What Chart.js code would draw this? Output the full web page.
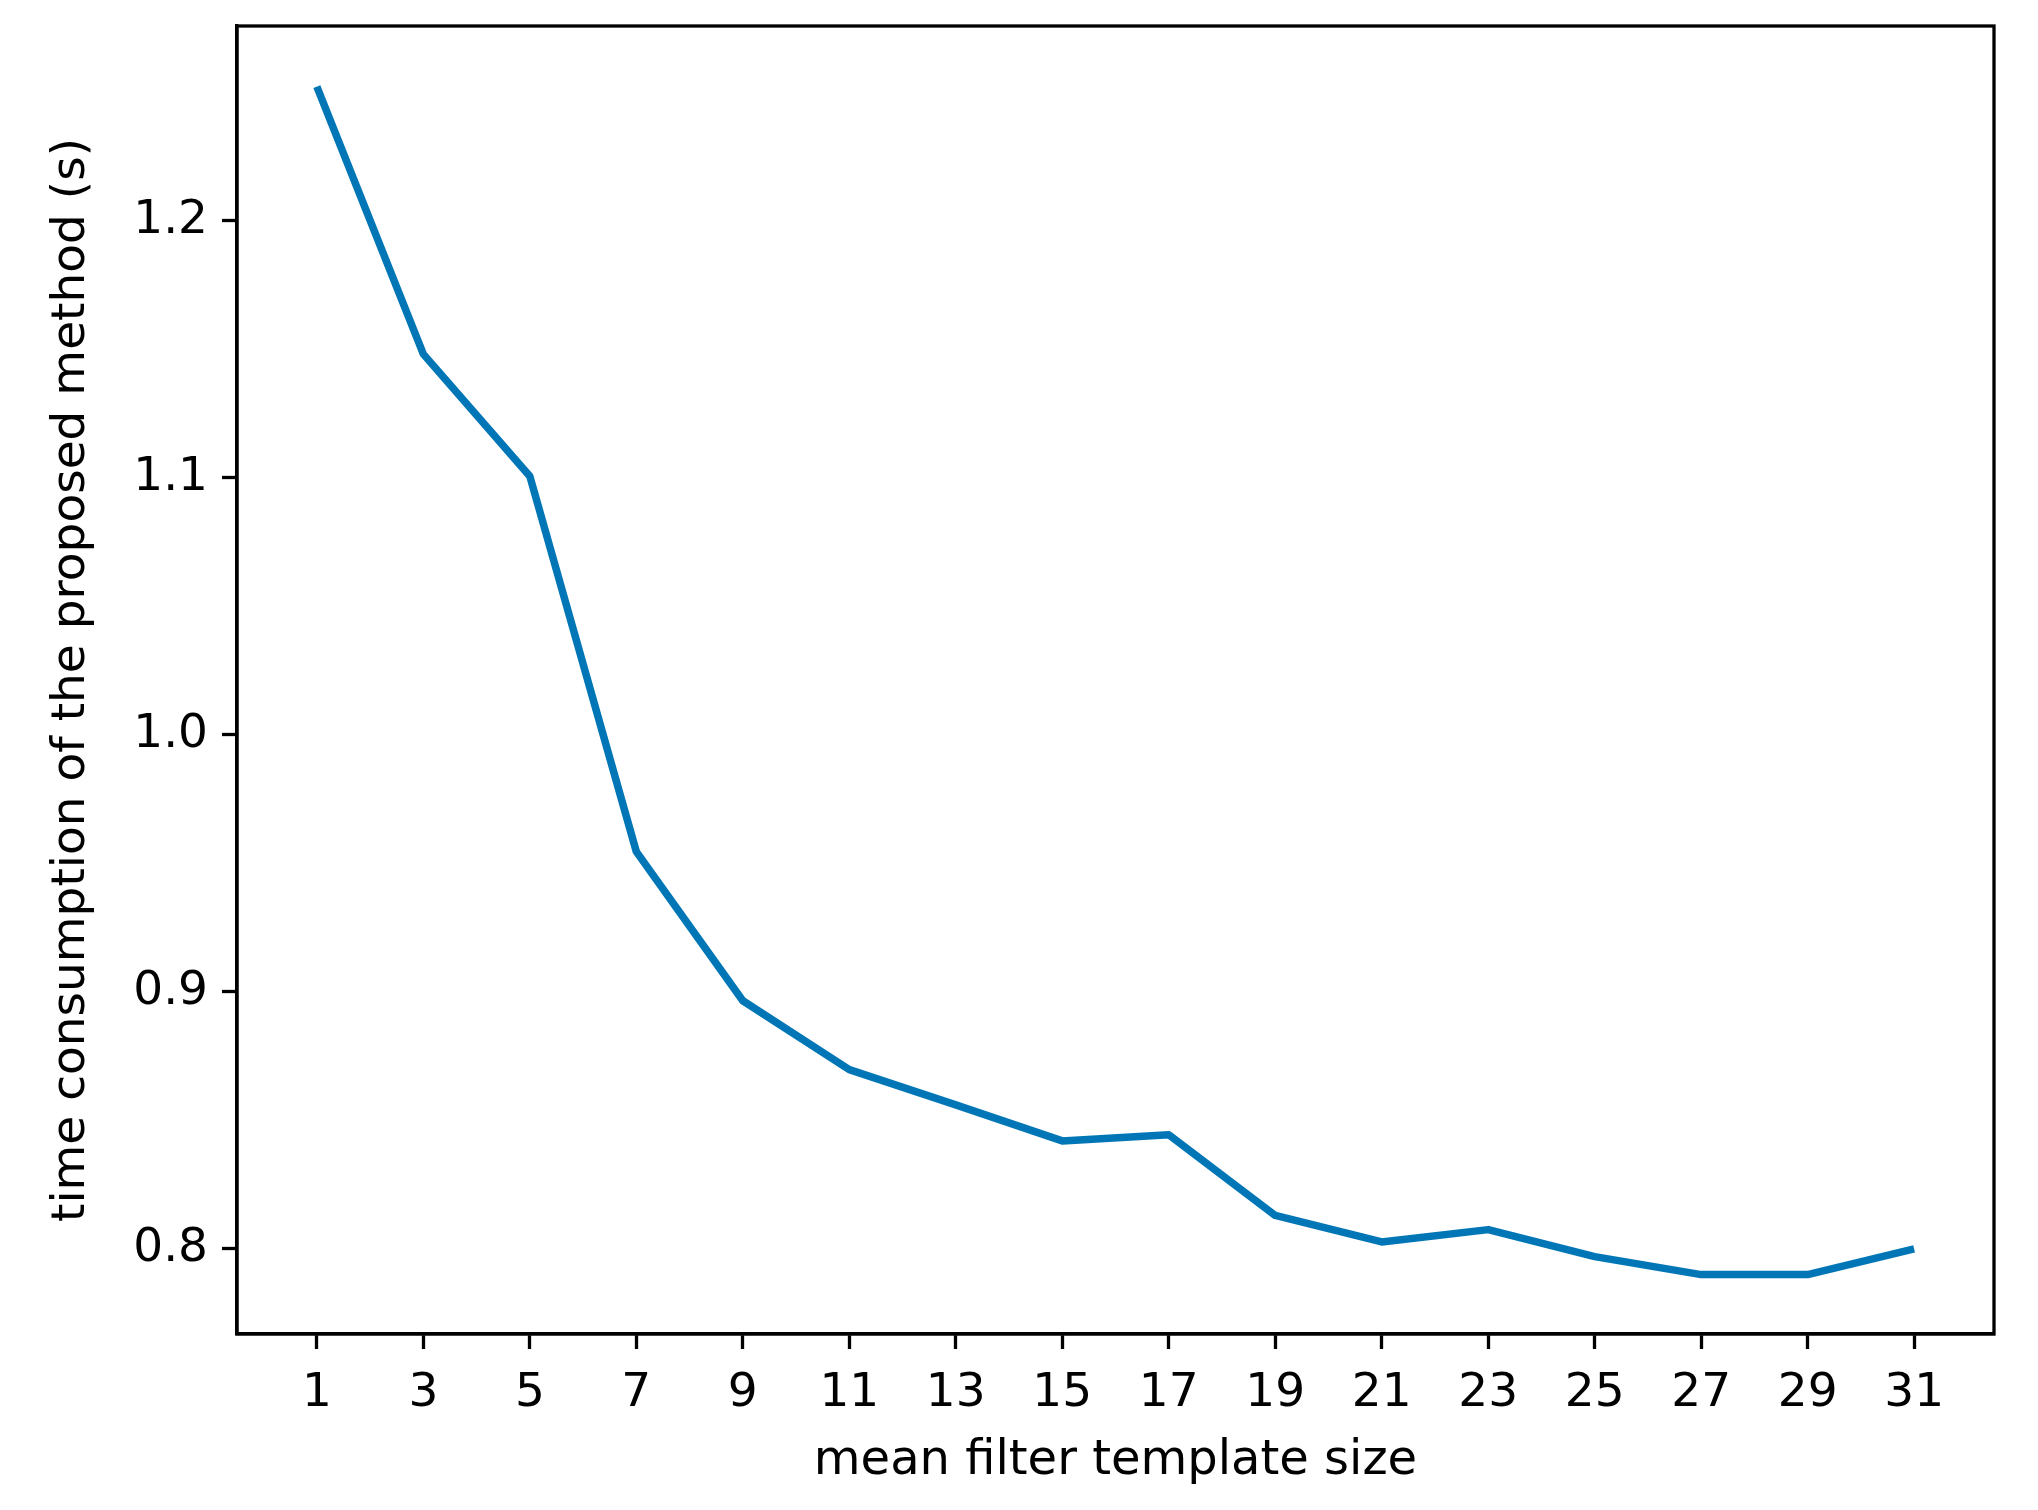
<!DOCTYPE html>
<html>
<head>
<meta charset="utf-8">
<script src="https://cdn.jsdelivr.net/npm/chart.js@4"></script>
<style>
  html, body { margin: 0; padding: 0; background: #fff; }
  #wrap { width: 2038px; height: 1510px; }
</style>
</head>
<body>
<div id="wrap"><canvas id="chart" width="2038" height="1510"></canvas></div>
<script>
const templateSizes = [1, 3, 5, 7, 9, 11, 13, 15, 17, 19, 21, 23, 25, 27, 29, 31];
const timeSeconds = [1.252, 1.148, 1.1005, 0.9545, 0.8965, 0.8697, 0.856, 0.842, 0.8444, 0.813, 0.8027, 0.8075, 0.797, 0.790, 0.790, 0.800];
const yTicks = [0.8, 0.9, 1.0, 1.1, 1.2];

const FONT = "'DejaVu Sans', sans-serif";
const LINE_COLOR = "#0076b6";

// frame around the plot area (matplotlib style box)
const framePlugin = {
  id: "frame",
  afterDraw(chart) {
    const { ctx, chartArea: a } = chart;
    ctx.save();
    ctx.strokeStyle = "#000";
    ctx.lineWidth = 3.3;
    ctx.strokeRect(a.left, a.top, a.right - a.left, a.bottom - a.top);
    ctx.restore();
  }
};

const points = templateSizes.map((x, i) => ({ x, y: timeSeconds[i] }));

new Chart(document.getElementById("chart"), {
  type: "line",
  data: {
    datasets: [{
      data: points,
      borderColor: LINE_COLOR,
      borderWidth: 7.5,
      pointRadius: 0,
      tension: 0,
      fill: false,
      borderCapStyle: "butt",
      borderJoinStyle: "round"
    }]
  },
  options: {
    responsive: false,
    animation: false,
    layout: { padding: { top: 26, right: 44, bottom: 0, left: 0 } },
    plugins: { legend: { display: false }, tooltip: { enabled: false } },
    scales: {
      x: {
        type: "linear",
        min: -0.5,
        max: 32.5,
        afterBuildTicks: (s) => { s.ticks = templateSizes.map(v => ({ value: v })); },
        afterFit: (s) => { s.height = 176; s.paddingLeft = 0; s.paddingRight = 0; },
        grid: { drawOnChartArea: false, drawTicks: true, tickLength: 15, tickWidth: 3.3, tickColor: "#000" },
        border: { display: true, color: "#000", width: 3.3 },
        ticks: { color: "#000", font: { family: FONT, size: 47 }, padding: 17, maxRotation: 0, autoSkip: false },
        title: { display: true, text: "mean filter template size", color: "#000", font: { family: FONT, size: 48 }, padding: { top: 0, bottom: 20 } }
      },
      y: {
        type: "linear",
        min: 0.7669,
        max: 1.2756,
        afterBuildTicks: (s) => { s.ticks = yTicks.map(v => ({ value: v })); },
        afterFit: (s) => { s.width = 237; s.paddingTop = 0; s.paddingBottom = 0; },
        grid: { drawOnChartArea: false, drawTicks: true, tickLength: 15, tickWidth: 3.3, tickColor: "#000" },
        border: { display: true, color: "#000", width: 3.3 },
        ticks: { color: "#000", font: { family: FONT, size: 47 }, padding: 14, callback: (v) => v.toFixed(1) },
        title: { display: true, text: "time consumption of the proposed method (s)", color: "#000", font: { family: FONT, size: 47 }, padding: { top: 44, bottom: 0 } }
      }
    }
  },
  plugins: [framePlugin]
});
</script>
</body>
</html>
